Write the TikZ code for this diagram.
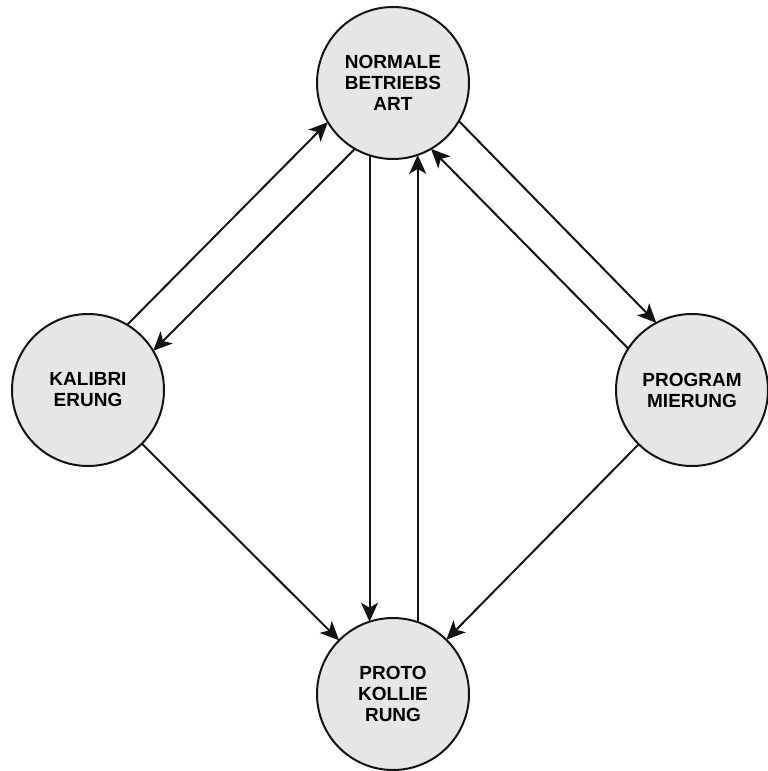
\documentclass[tikz,border=0pt]{standalone}
\usepackage{fontspec}
\setmainfont{Liberation Sans}
\usetikzlibrary{arrows.meta}
\definecolor{statefill}{HTML}{E6E6E6}
\definecolor{linecol}{HTML}{141414}
\begin{document}
\begin{tikzpicture}[x=1pt,y=-1pt,
  state/.style={circle,draw=linecol,line width=2pt,fill=statefill,minimum size=152pt,inner sep=0pt,outer sep=0pt,align=center,font=\bfseries\fontsize{19}{21}\selectfont},
  conn/.style={draw=linecol,line width=2pt,-{Stealth[length=19pt,width=17pt,inset=5pt]}}]
\useasboundingbox (0,0) rectangle (768,771);
\node[state] (T) at (393,83) {NORMALE\\BETRIEBS\\ART};
\node[state] (L) at (88,390) {KALIBRI\\ERUNG};
\node[state] (R) at (692,390) {PROGRAM\\MIERUNG};
\node[state] (B) at (393,694) {PROTO\\KOLLIE\\RUNG};
\draw[conn] (L.59.5) -- (T.211);
\draw[conn] (T.240) -- (L.31);
\draw[conn] (T.330) -- (R.118);
\draw[conn] (R.147) -- (T.300);
\draw[conn] (T.252) -- (B.108);
\draw[conn] (B.71) -- (T.289);
\draw[conn] (L) -- (B);
\draw[conn] (R) -- (B);
\end{tikzpicture}
\end{document}
